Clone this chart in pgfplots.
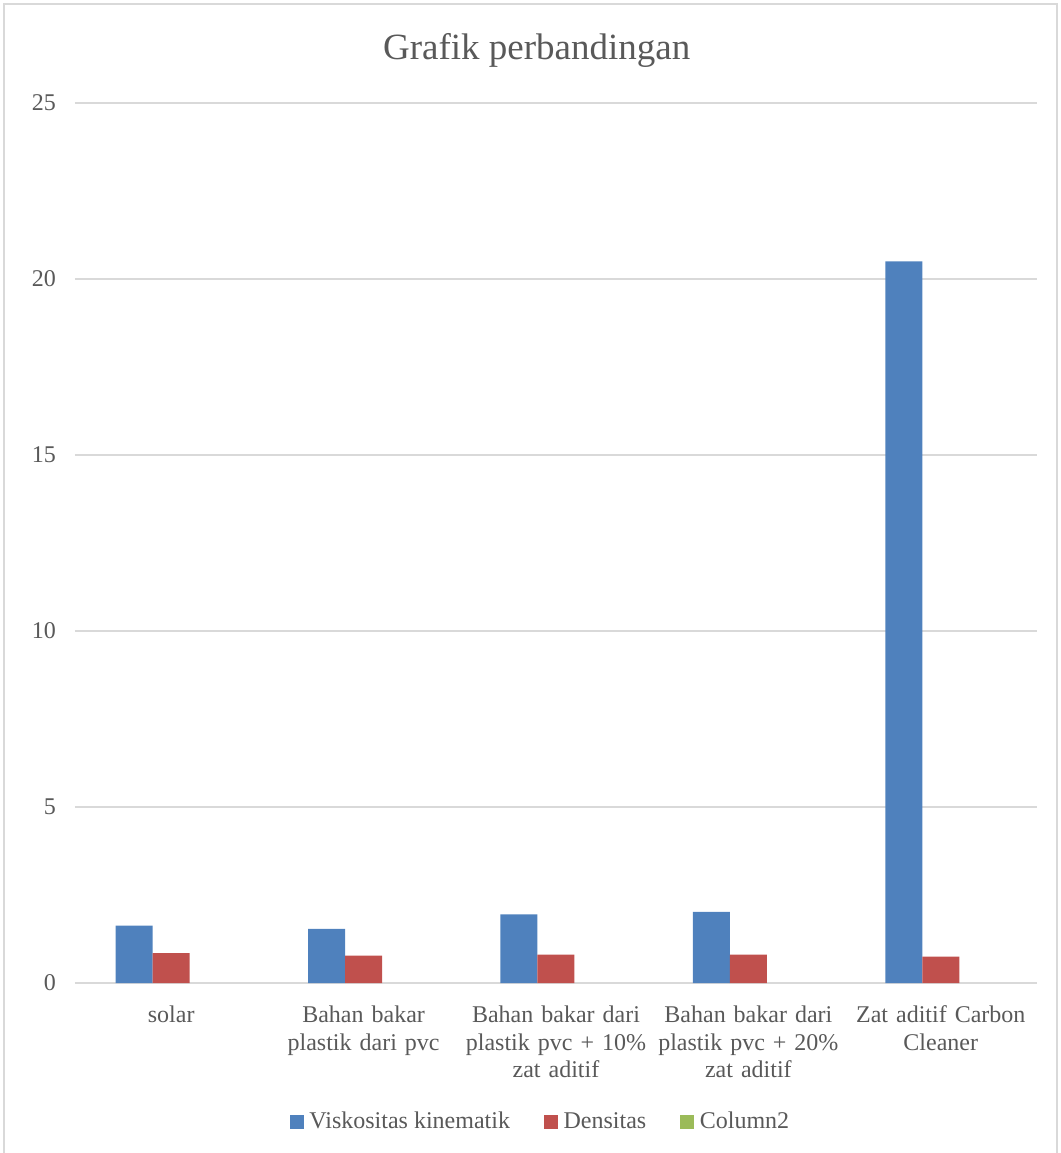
\documentclass[border=0pt]{standalone}
\usepackage{pgfplots}
\pgfplotsset{compat=1.18}
\usepackage{fontspec}
\setmainfont{Liberation Serif}
\definecolor{vblue}{HTML}{4F81BD}
\definecolor{vred}{HTML}{C0504D}
\definecolor{vgreen}{HTML}{9BBB59}
\definecolor{gridc}{HTML}{D9D9D9}
\definecolor{txt}{HTML}{595959}
\begin{document}
\begin{tikzpicture}
\useasboundingbox (0,0) rectangle (530.5pt,-576.5pt);
\draw[gridc, line width=0.6pt] (2pt,-576.5pt) -- (2pt,-2pt) -- (528.5pt,-2pt) -- (528.5pt,-576.5pt);
\begin{axis}[
  at={(37.5pt,-491.5pt)}, anchor=south west,
  scale only axis, width=481pt, height=440pt,
  xmin=-0.5, xmax=4.5, ymin=0, ymax=25,
  ytick={0,5,10,15,20,25},
  xtick={0,1,2,3,4},
  xticklabels={solar, {Bahan bakar\\plastik dari pvc}, {Bahan bakar dari\\plastik pvc + 10\%\\zat aditif}, {Bahan bakar dari\\plastik pvc + 20\%\\zat aditif}, {Zat aditif Carbon\\Cleaner}},
  /pgf/number format/assume math mode=true,
  ymajorgrids, grid style={gridc, line width=0.6pt},
  axis x line*=bottom, axis y line*=left,
  y axis line style={draw=none},
  x axis line style={draw=gridc, line width=1pt, -},
  major tick length=0pt,
  tick label style={text=txt, font=\fontsize{12}{13.75}\selectfont},
  xticklabel style={text width=100pt, align=center, anchor=north, yshift=-8pt},
  yticklabel style={xshift=-6pt},
  title={Grafik perbandingan},
  every axis title/.style={at={(0.48,1.06)}, anchor=center, text=txt, font=\fontsize{18.5}{20}\selectfont},
  ybar, bar width=18.5pt,
  legend style={at={(0.485,-0.158)}, anchor=center, draw=none, legend columns=3,
    font=\fontsize{12}{14}\selectfont, text=txt,
    /tikz/every odd column/.append style={column sep=1pt},
    /tikz/every even column/.append style={column sep=15pt}},
]
\addplot[draw=none, fill=vblue, bar shift=-18.5pt, forget plot] coordinates {(0,1.63) (1,1.54) (2,1.95) (3,2.02) (4,20.50)};
\addplot[draw=none, fill=vred, bar shift=0pt, forget plot] coordinates {(0,0.85) (1,0.78) (2,0.81) (3,0.81) (4,0.75)};
\addlegendimage{legend image code/.code={\fill[vblue] (0pt,-3.2pt) rectangle (6.4pt,3.2pt);}}
\addlegendentry{Viskositas kinematik}
\addlegendimage{legend image code/.code={\fill[vred] (0pt,-3.2pt) rectangle (6.4pt,3.2pt);}}
\addlegendentry{Densitas}
\addlegendimage{legend image code/.code={\fill[vgreen] (0pt,-3.2pt) rectangle (6.4pt,3.2pt);}}
\addlegendentry{Column2}
\end{axis}
\end{tikzpicture}
\end{document}
